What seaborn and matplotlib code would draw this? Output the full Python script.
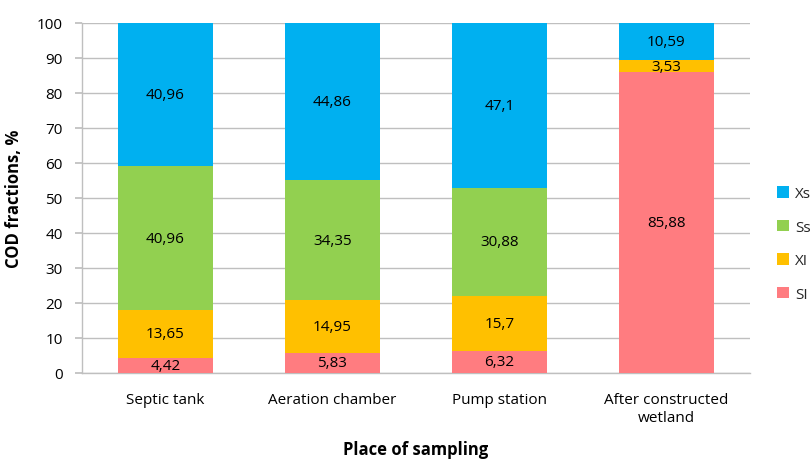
import matplotlib
matplotlib.use("Agg")
import matplotlib.pyplot as plt
import seaborn as sns
import pandas as pd
import numpy as np
from matplotlib.patches import Patch

categories = ["Septic tank", "Aeration chamber", "Pump station", "After constructed\nwetland"]
SI = [4.42, 5.83, 6.32, 85.88]
XI = [13.65, 14.95, 15.7, 3.53]
Ss = [40.96, 34.35, 30.88, 0.0]
Xs = [40.96, 44.86, 47.1, 10.59]

series_names = ["SI", "XI", "Ss", "Xs"]
series_vals = [SI, XI, Ss, Xs]
colors = {"Xs": "#00B0F0", "Ss": "#92D050", "XI": "#FFC000", "SI": "#FF7C80"}

sns.set_theme(style="white")
plt.rcParams["font.family"] = ["Open Sans", "DejaVu Sans"]

fig = plt.figure(figsize=(8.1, 4.6), dpi=100)
ax = fig.add_axes([82/810, 1-374/460, (750-82)/810, 350/460])

vals = np.array(series_vals)
cum = np.cumsum(vals, axis=0)
bottoms = cum - vals

for i in reversed(range(len(series_names))):
    name = series_names[i]
    df = pd.DataFrame({"cat": categories, "top": cum[i]})
    sns.barplot(data=df, x="cat", y="top", color=colors[name], ax=ax,
                width=0.57, saturation=1, edgecolor="none", linewidth=0, zorder=3)

def fmt(v):
    s = f"{v:.2f}".rstrip("0").rstrip(".")
    return s.replace(".", ",")

for i, name in enumerate(series_names):
    for j in range(len(categories)):
        v = vals[i, j]
        if v <= 0:
            continue
        ax.text(j, bottoms[i, j] + v/2, fmt(v), ha="center", va="center",
                fontsize=11, color="#000000", zorder=5)

ax.set_ylim(0, 100)
ax.set_xlim(-0.5, 3.5)
ax.set_yticks(range(0, 101, 10))
ax.yaxis.grid(True, color="#BFBFBF", linewidth=1, zorder=0)
ax.set_axisbelow(True)
for s in ["top", "right"]:
    ax.spines[s].set_visible(False)
for s in ["left", "bottom"]:
    ax.spines[s].set_color("#BFBFBF")
    ax.spines[s].set_linewidth(1)
ax.tick_params(axis="y", which="both", left=True, length=5, color="#BFBFBF",
               labelsize=11, pad=9, labelcolor="#000000")
ax.tick_params(axis="x", bottom=False, labelsize=11, pad=8, labelcolor="#000000")
ax.set_xlabel("Place of sampling", fontsize=12, fontweight="bold", color="#000000")
ax.xaxis.set_label_coords(0.5, (374-441)/350)
ax.set_ylabel("COD fractions, %", fontsize=12, fontweight="bold", labelpad=10, color="#000000")

handles = [Patch(facecolor=colors[n], edgecolor="none") for n in ["Xs", "Ss", "XI", "SI"]]
fig.legend(handles, ["Xs", "Ss", "XI", "SI"], loc="center left",
           bbox_to_anchor=(763/810, 1-245/460), frameon=False, fontsize=11,
           handlelength=0.8, handleheight=0.8, handletextpad=0.4, labelspacing=1.2)

fig.savefig("out.png", dpi=100)
